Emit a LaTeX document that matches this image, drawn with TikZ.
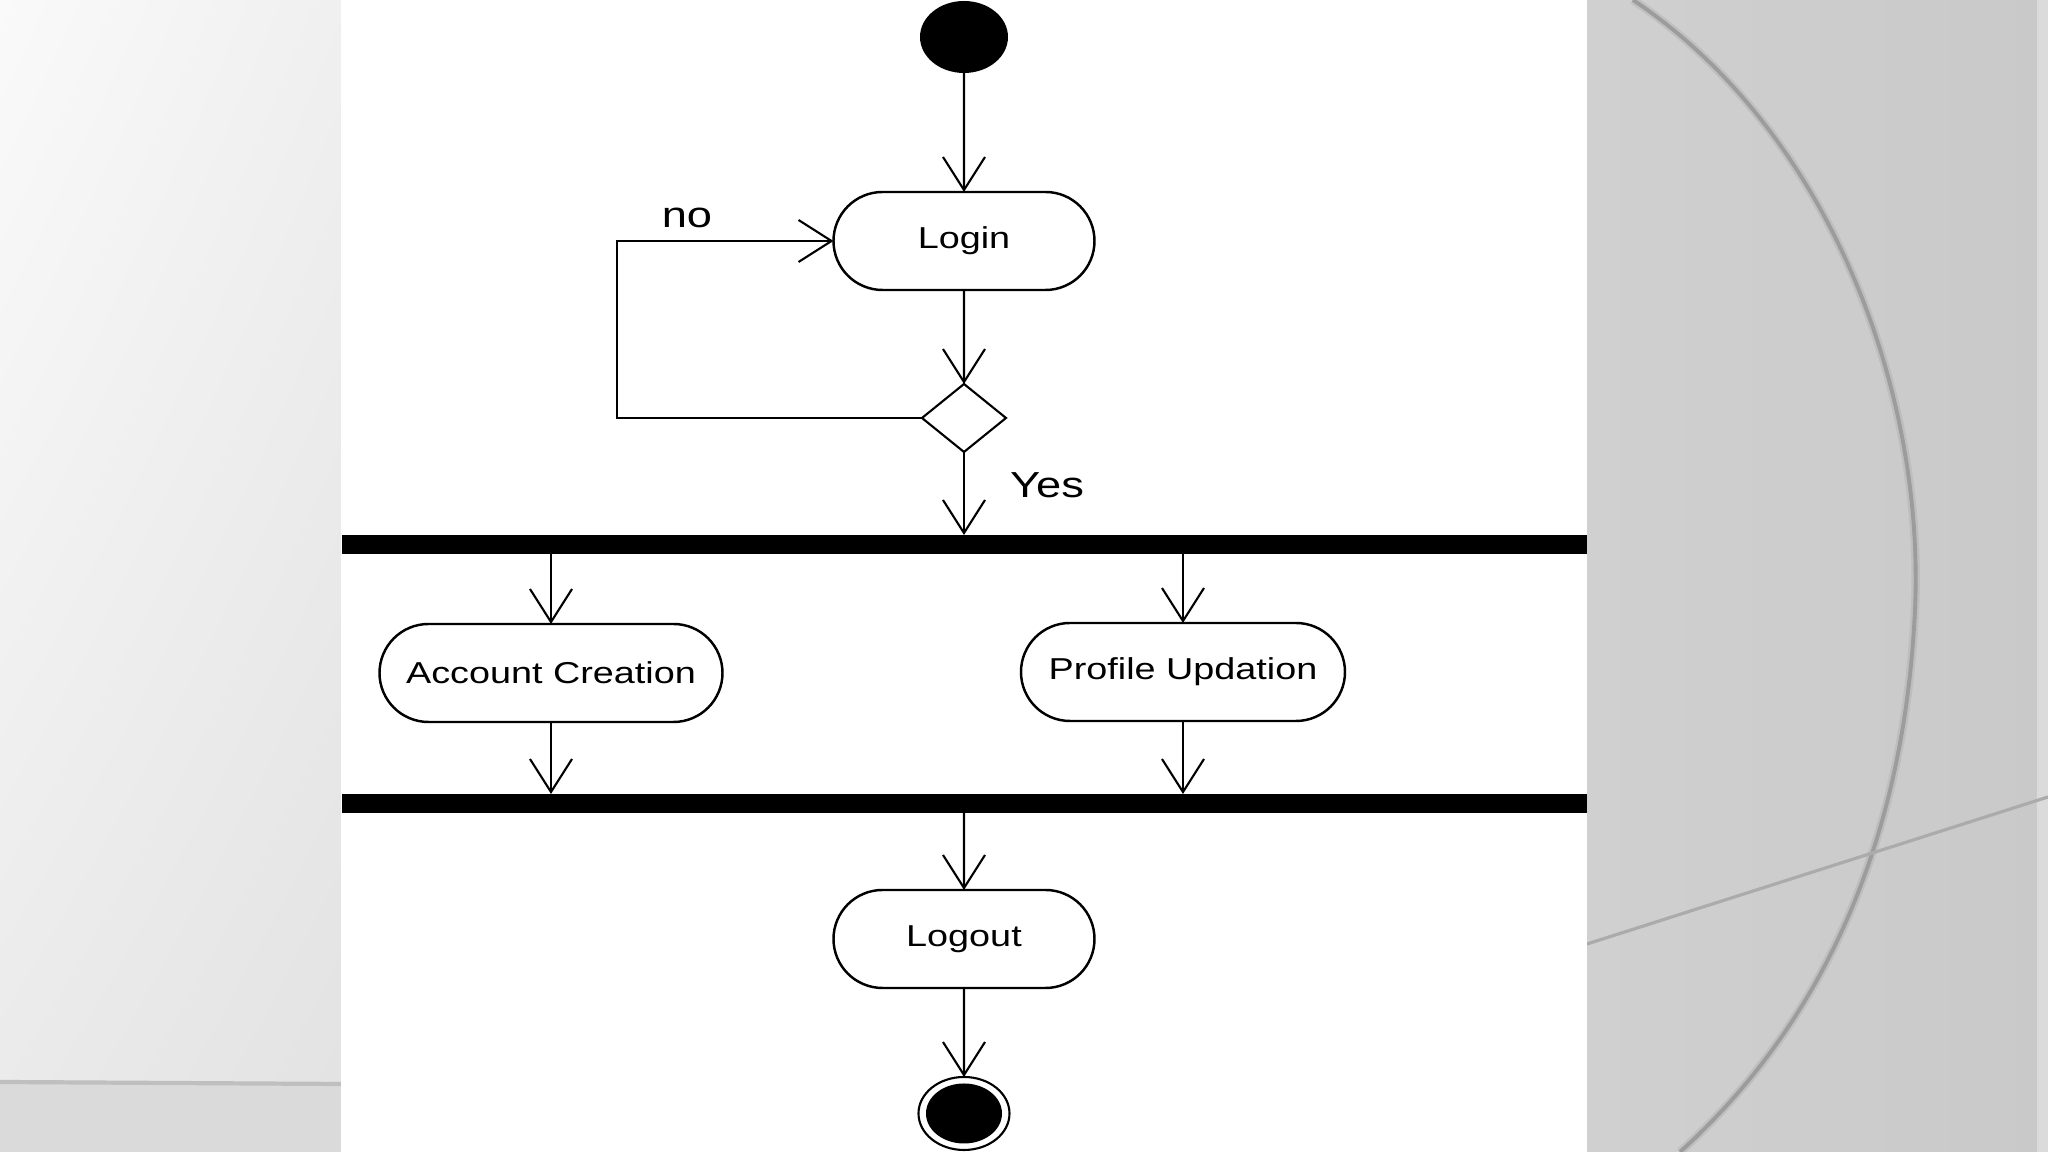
\documentclass[tikz,border=0pt]{standalone}
\usepackage{fontspec}
\setmainfont{Liberation Sans}[FakeStretch=1.25]
\usetikzlibrary{shapes.geometric, shapes.misc, arrows.meta, positioning, shadings}

\definecolor{slidegray}{HTML}{C9C9C9}
\definecolor{slidelight}{HTML}{D0D0D0}
\definecolor{stripgray}{HTML}{DADADA}
\definecolor{arcgray}{HTML}{9C9C9C}

\begin{document}
\begin{tikzpicture}[
  activity/.style={rounded rectangle, draw, line width=0.7pt, fill=white, minimum width=2.61cm, minimum height=0.98cm, inner sep=0pt, outer sep=0pt, font=\fontsize{8.6}{10}\selectfont},
  initial/.style={ellipse, fill=black, minimum width=0.88cm, minimum height=0.72cm, inner sep=0pt, outer sep=0pt},
  final/.style={ellipse, draw, line width=0.6pt, minimum width=0.91cm, minimum height=0.73cm, inner sep=0pt, outer sep=0pt,
    path picture={\fill (path picture bounding box.center) ellipse [x radius=0.38cm, y radius=0.30cm];}},
  decision/.style={diamond, draw, line width=0.6pt, fill=white, minimum width=0.84cm, minimum height=0.68cm, inner sep=0pt, outer sep=0pt},
  syncbar/.style={rectangle, fill=black, minimum width=12.45cm, minimum height=0.19cm, inner sep=0pt, outer sep=0pt},
  guard/.style={font=\fontsize{10.3}{12}\selectfont},
  arr/.style={-{Straight Barb[length=0.33cm, width=0.42cm]}, line width=0.6pt}
]
  % slide background
  \useasboundingbox (0,0) rectangle (20.48,11.52);
  \shade[upper left=white!98!black, upper right=white!94!black, lower left=white!92!black, lower right=white!89!black] (0,0.69) rectangle (3.41,11.52);
  \fill[stripgray] (0,0) rectangle (3.41,0.69);
  \draw[black!25, line width=1.2pt] (0,0.70) -- (3.41,0.68);
  \shade[left color=slidelight, right color=slidegray] (15.87,0) rectangle (20.48,11.52);
  \fill[white!86!black] (20.37,0) rectangle (20.48,11.52);
  \draw[black!30, line width=2.4pt, opacity=0.5] (16.33,11.52) .. controls (18.3,10.2) and (19.25,7.6) .. (19.15,5.42) .. controls (19.05,3.3) and (18.35,1.4) .. (16.80,0);
  \draw[arcgray, line width=1.1pt] (16.33,11.52) .. controls (18.3,10.2) and (19.25,7.6) .. (19.15,5.42) .. controls (19.05,3.3) and (18.35,1.4) .. (16.80,0);
  \draw[black!33, line width=0.9pt] (15.87,2.08) -- (20.48,3.55);
  \fill[white] (3.41,0) rectangle (15.87,11.52);

  % activity diagram
  \node[initial] (start) at (9.64,11.15) {};
  \node[activity, below=1.19cm of start] (login) {Login};
  \node[decision, below=0.94cm of login] (dec) {};
  \node[syncbar, below=0.83cm of dec] (fork) {};
  \node[activity, minimum width=3.43cm, below=0.70cm of fork, xshift=-4.13cm] (acct) {Account Creation};
  \node[activity, minimum width=3.24cm, below=0.69cm of fork, xshift=2.19cm] (profile) {Profile Updation};
  \node[syncbar, below=2.40cm of fork] (join) {};
  \node[activity, below=0.77cm of join] (logout) {Logout};
  \node[final, below=0.89cm of logout] (end) {};

  \node[guard] (nolabel) at (6.87,9.34) {no};
  \node[guard] (yeslabel) at (10.47,6.67) {Yes};

  \draw[arr] (start) -- (login);
  \draw[arr] (login) -- (dec);
  \draw[arr] (dec.west) -- ++(-3.05,0) |- (login.west);
  \draw[arr] (dec) -- (fork);
  \draw[arr] (fork.south -| acct.north) -- (acct.north);
  \draw[arr] (fork.south -| profile.north) -- (profile.north);
  \draw[arr] (acct.south) -- (acct.south |- join.north);
  \draw[arr] (profile.south) -- (profile.south |- join.north);
  \draw[arr] (join) -- (logout);
  \draw[arr] (logout) -- (end);
\end{tikzpicture}
\end{document}
